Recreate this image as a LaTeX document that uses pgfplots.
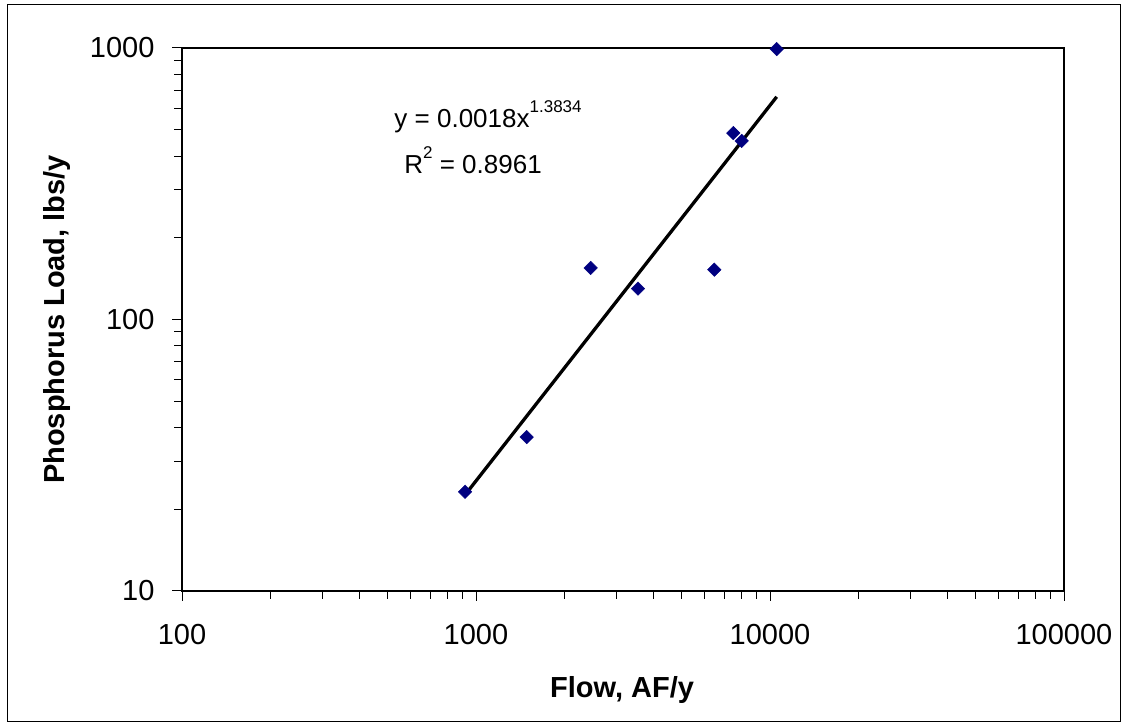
\documentclass[border=0pt]{standalone}
\usepackage{fontspec}
\setmainfont{Liberation Sans}
\usepackage{pgfplots}
\pgfplotsset{compat=1.18}
\definecolor{navyblue}{RGB}{0,0,128}
\begin{document}
\begin{tikzpicture}
\begin{axis}[
  scale only axis,
  width=882pt, height=543pt,
  xmode=log, ymode=log,
  xmin=100, xmax=100000, ymin=10, ymax=1000,
  xtick={100,1000,10000,100000},
  xticklabels={100,1000,10000,100000},
  ytick={10,100,1000},
  yticklabels={10,100,1000},
  tick align=outside,
  xtick pos=left, ytick pos=left,
  major tick length=10pt, minor tick length=8pt,
  axis line style={line width=1.3pt},
  every tick/.style={black, line width=1pt},
  tick label style={font=\fontsize{29}{34}\selectfont},
  xticklabel style={yshift=-20pt},
  yticklabel style={xshift=-14pt},
  label style={font=\fontsize{29}{34}\selectfont\bfseries},
  xlabel={Flow, AF/y},
  ylabel={Phosphorus Load, lbs/y},
  xlabel style={at={(axis description cs:0.499,-0.182)}, anchor=center},
  ylabel style={at={(axis description cs:-0.142,0.5)}, anchor=center},
  clip=false,
]
\addplot[only marks, mark=square*, mark size=4.8pt, color=navyblue,
  mark options={rotate=45, fill=navyblue}] coordinates {
  (918,23.2) (1487,36.9) (2455,154.8) (3556,129.9) (6465,152.6)
  (7502,486) (8012,454.5) (10537,991)
};
\addplot[black, line width=3.3pt, no marks] coordinates {
  (918,22.6) (10537,661)
};
\node[anchor=base, font=\fontsize{26}{31}\selectfont] at (rel axis cs:0.347,0.853) {y = 0.0018x\raisebox{0.6em}{\fontsize{17}{20}\selectfont 1.3834}};
\node[anchor=base, font=\fontsize{26}{31}\selectfont] at (rel axis cs:0.330,0.768) {R\raisebox{0.6em}{\fontsize{17}{20}\selectfont 2} = 0.8961};
\end{axis}
\draw[line width=1pt] (-174pt,-131pt) rectangle (938pt,586pt);
\pgfresetboundingbox
\path (-182pt,-136pt) rectangle (946pt,591pt);
\end{tikzpicture}
\end{document}
